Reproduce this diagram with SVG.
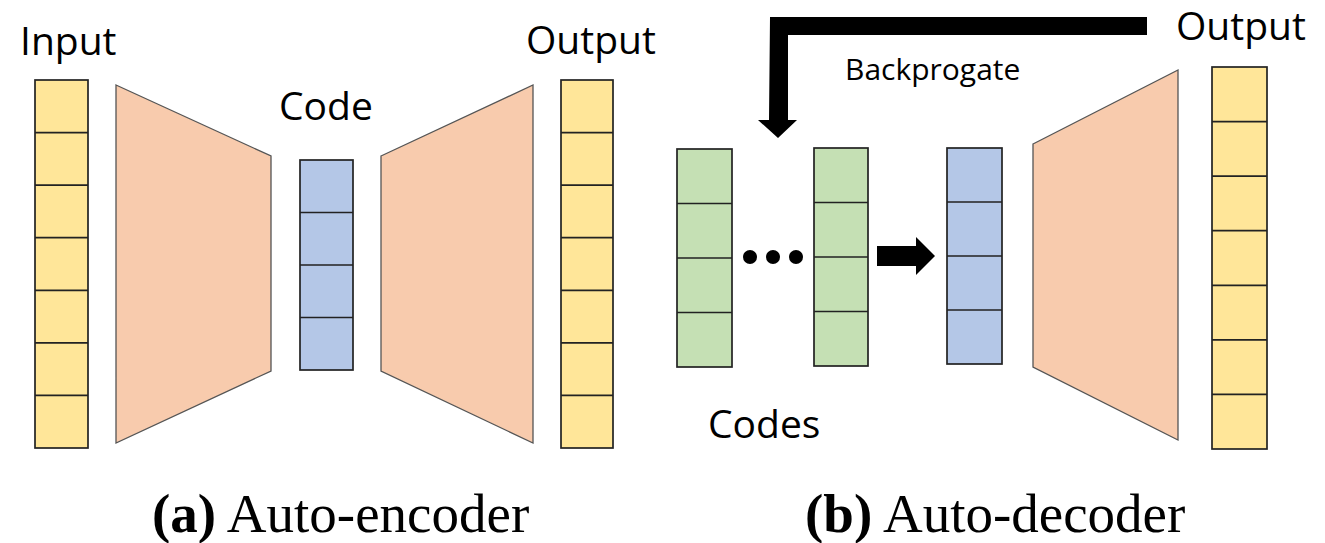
<svg xmlns="http://www.w3.org/2000/svg" width="1325" height="543" viewBox="0 0 1325 543">
<style>
.lbl{font-family:"Open Sans","Liberation Sans",sans-serif;font-size:39px;fill:#000}
.cap{font-family:"Liberation Serif","Times New Roman",serif;font-size:55px;fill:#000}
.cell{stroke:#222;stroke-width:1.7}
.y{fill:#FFE699}.b{fill:#B4C7E7}.g{fill:#C5E0B4}
.trap{fill:#F8CBAD;stroke:#555;stroke-width:1.3}
</style>
<rect width="1325" height="543" fill="#fff"/>
<g id="input">
<rect class="cell y" x="35" y="80" width="53" height="368"/>
<path class="cell" d="M35 132.6H88M35 185.1H88M35 237.7H88M35 290.3H88M35 342.9H88M35 395.4H88"/>
<text class="lbl" x="20" y="55">Input</text>
</g>
<g id="encoder"><polygon class="trap" points="116,85 271,156 271,371 116,443"/></g>
<g id="code">
<rect class="cell b" x="300" y="160" width="53" height="210"/>
<path class="cell" d="M300 212.5H353M300 265H353M300 317.5H353"/>
<text class="lbl" x="279" y="120">Code</text>
</g>
<g id="decoder-a"><polygon class="trap" points="381,156 533,85 533,443 381,371"/></g>
<g id="output-a">
<rect class="cell y" x="561" y="80" width="52" height="368"/>
<path class="cell" d="M561 132.6H613M561 185.1H613M561 237.7H613M561 290.3H613M561 342.9H613M561 395.4H613"/>
<text class="lbl" x="526" y="54">Output</text>
</g>
<g id="codes1">
<rect class="cell g" x="677" y="149" width="55" height="218"/>
<path class="cell" d="M677 203.5H732M677 258H732M677 312.5H732"/>
</g>
<g id="dots">
<circle cx="750" cy="257" r="7"/><circle cx="773" cy="257" r="7"/><circle cx="796" cy="257" r="7"/>
</g>
<g id="codes2">
<rect class="cell g" x="814" y="148" width="54" height="218"/>
<path class="cell" d="M814 202.5H868M814 257H868M814 311.5H868"/>
</g>
<text class="lbl" x="708" y="438">Codes</text>
<g id="code-b">
<rect class="cell b" x="947" y="148" width="55" height="216"/>
<path class="cell" d="M947 202H1002M947 256H1002M947 310H1002"/>
</g>
<g id="decoder-b"><polygon class="trap" points="1033,144 1178,70 1178,440 1033,367"/></g>
<g id="output-b">
<rect class="cell y" x="1212" y="67" width="55" height="382"/>
<path class="cell" d="M1212 121.6H1267M1212 176.1H1267M1212 230.7H1267M1212 285.3H1267M1212 339.9H1267M1212 394.4H1267"/>
<text class="lbl" x="1176" y="40">Output</text>
</g>
<g id="connectors">
<polygon points="1147,17 770,17 769,120 758,120 778,138 797,120 788,120 788,35 1147,35" fill="#000"/>
<polygon points="877,246 916,246 916,237 935,256 916,275 916,266 877,266" fill="#000"/>
</g>
<text x="845" y="80" style="font-family:'Open Sans','Liberation Sans',sans-serif;font-size:30px">Backprogate</text>
<text class="cap" x="152" y="532"><tspan font-weight="bold">(a)</tspan> Auto-encoder</text>
<text class="cap" x="805" y="532"><tspan font-weight="bold">(b)</tspan> Auto-decoder</text>
</svg>
